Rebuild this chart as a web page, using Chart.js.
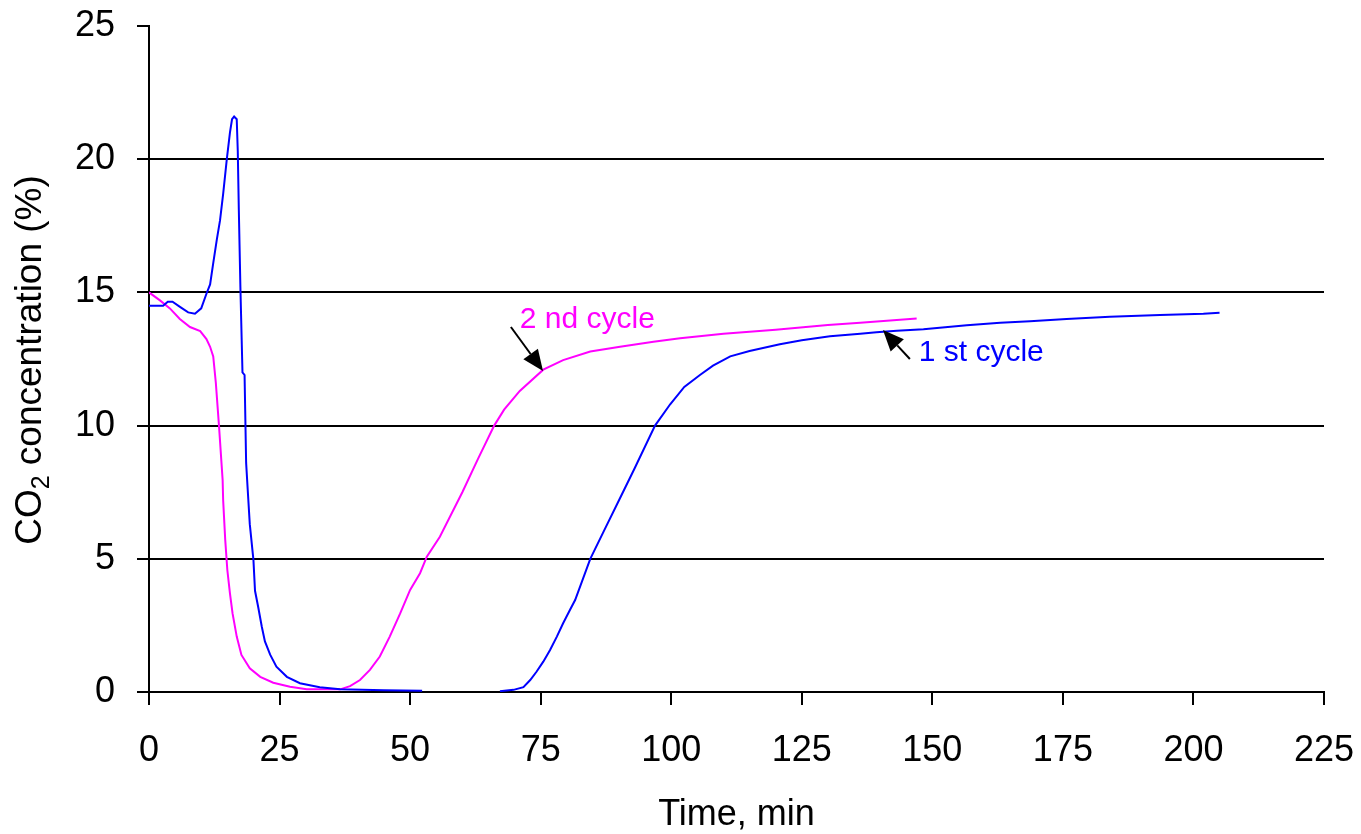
<!DOCTYPE html>
<html>
<head>
<meta charset="utf-8">
<script src="https://cdn.jsdelivr.net/npm/chart.js@4.4.1/dist/chart.umd.min.js"></script>
<style>
  body { margin: 0; background: #fff; }
  #wrap { width: 1361px; height: 834px; }
</style>
</head>
<body>
<div id="wrap"><canvas id="co2Chart"></canvas></div>
<script>
// Data (time in min, CO2 in %)
const cycle1Time = [0, 2.7, 3.6, 4.5, 6.0, 7.5, 8.8, 10.0, 11.0, 11.7, 12.3, 13.0, 13.6, 14.2, 14.9, 15.5, 15.9, 16.3, 16.8, 17.0, 17.2, 17.5, 17.9, 18.3, 18.6, 18.9, 19.3, 20.0, 20.3, 20.9, 21.6, 22.2, 23.2, 24.4, 26.4, 28.9, 32.7, 36.6, 45, 52.3, 60, 67.2, 69.8, 71.7, 73.0, 74.2, 75.5, 76.8, 78.1, 79.3, 80.6, 81.6, 84.5, 87, 90, 93, 96.9, 99.8, 102.5, 105.5, 108, 111.3, 115, 120.8, 125, 130.4, 136.2, 139.3, 143.2, 148.3, 156.6, 163, 168.7, 175.7, 184, 193.6, 201.9, 205]
const cycle1Co2 = [14.5, 14.5, 14.65, 14.65, 14.45, 14.25, 14.2, 14.4, 14.95, 15.3, 16.1, 17.0, 17.7, 18.7, 20.0, 21.0, 21.5, 21.6, 21.5, 20.3, 18.1, 15.2, 12.0, 11.9, 8.6, 7.6, 6.3, 4.95, 3.8, 3.2, 2.45, 1.9, 1.4, 0.95, 0.57, 0.33, 0.18, 0.1, 0.07, 0.05, null, 0.03, 0.08, 0.18, 0.45, 0.76, 1.14, 1.58, 2.08, 2.58, 3.08, 3.45, 5.0, 6.0, 7.2, 8.4, 10.0, 10.8, 11.45, 11.9, 12.25, 12.6, 12.8, 13.05, 13.2, 13.35, 13.45, 13.5, 13.56, 13.62, 13.77, 13.86, 13.92, 14.0, 14.09, 14.15, 14.2, 14.24]

const cycle2Time = [0, 2.1, 4.0, 5.9, 7.85, 9.8, 11.0, 11.7, 12.3, 12.8, 13.4, 14.1, 14.2, 14.6, 15.0, 15.5, 16.0, 16.8, 17.7, 19.3, 21.3, 23.8, 27, 30.2, 36.6, 38.5, 40.4, 42.3, 44.2, 46.1, 48.1, 50.0, 51.9, 53.2, 55.7, 60, 63, 66.1, 68, 71, 75.5, 79.3, 84.5, 90.2, 96.6, 101.7, 110, 120, 130, 136.2, 147]
const cycle2Co2 = [15.0, 14.7, 14.4, 14.0, 13.7, 13.55, 13.25, 12.96, 12.6, 11.6, 10.0, 7.96, 7.2, 5.7, 4.58, 3.7, 2.95, 2.08, 1.39, 0.89, 0.57, 0.35, 0.2, 0.1, 0.1, 0.22, 0.45, 0.83, 1.33, 2.08, 2.95, 3.83, 4.46, 5.08, 5.83, 7.5, 8.75, 10.0, 10.6, 11.3, 12.1, 12.46, 12.78, 12.96, 13.15, 13.28, 13.45, 13.6, 13.78, 13.86, 14.02]

const xTickValues = [0, 25, 50, 75, 100, 125, 150, 175, 200, 225]
const yTickValues = [0, 5, 10, 15, 20, 25]

const FONT = "'Liberation Sans', Arial, sans-serif"

const toPoints = (xs, ys) => xs.map((x, i) => ({ x: x, y: ys[i] }))

// Labels with arrows, placed in data coordinates
const notes = [
  { text: "2 nd cycle", color: "#ff00ff", at: [71.0, 13.66], tail: [69.3, 13.7], tip: [75.45, 12.05] },
  { text: "1 st cycle", color: "#0000ff", at: [147.4, 12.42], tail: [145.7, 12.5], tip: [140.55, 13.59] },
]

const notesPlugin = {
  id: "notes",
  afterDatasetsDraw(chart) {
    const { ctx, scales } = chart
    const xs = scales.x
    const ys = scales.y
    ctx.save()
    notes.forEach((n) => {
      ctx.font = "30px " + FONT
      ctx.fillStyle = n.color
      ctx.textBaseline = "alphabetic"
      ctx.textAlign = "left"
      ctx.fillText(n.text, xs.getPixelForValue(n.at[0]), ys.getPixelForValue(n.at[1]))

      const tx = xs.getPixelForValue(n.tail[0])
      const ty = ys.getPixelForValue(n.tail[1])
      const hx = xs.getPixelForValue(n.tip[0])
      const hy = ys.getPixelForValue(n.tip[1])
      const ang = Math.atan2(hy - ty, hx - tx)
      const len = 21
      const half = 9
      const bx = hx - len * Math.cos(ang)
      const by = hy - len * Math.sin(ang)
      ctx.strokeStyle = "#000"
      ctx.lineWidth = 2
      ctx.beginPath()
      ctx.moveTo(tx, ty)
      ctx.lineTo(bx, by)
      ctx.stroke()
      ctx.fillStyle = "#000"
      ctx.beginPath()
      ctx.moveTo(hx, hy)
      ctx.lineTo(bx - half * Math.sin(ang), by + half * Math.cos(ang))
      ctx.lineTo(bx + half * Math.sin(ang), by - half * Math.cos(ang))
      ctx.closePath()
      ctx.fill()
    })
    ctx.restore()
  },
}

// Y axis title with subscript 2
const yTitlePlugin = {
  id: "yTitle",
  afterDraw(chart) {
    const { ctx } = chart
    const big = "37px " + FONT
    const small = "25px " + FONT
    const parts = [
      { t: "CO", f: big, dy: 0 },
      { t: "2", f: small, dy: 8 },
      { t: " concentration (%)", f: big, dy: 0 },
    ]
    let total = 0
    parts.forEach((p) => {
      ctx.font = p.f
      p.w = ctx.measureText(p.t).width
      total += p.w
    })
    ctx.save()
    ctx.translate(41, 360)
    ctx.rotate(-Math.PI / 2)
    ctx.fillStyle = "#000"
    ctx.textBaseline = "alphabetic"
    ctx.textAlign = "left"
    let x = -total / 2
    parts.forEach((p) => {
      ctx.font = p.f
      ctx.fillText(p.t, x, p.dy)
      x += p.w
    })
    ctx.restore()
  },
}

const ctx = document.getElementById("co2Chart").getContext("2d")

const co2Chart = new Chart(ctx, {
  type: "line",
  data: {
    datasets: [
      {
        label: "1 st cycle",
        data: toPoints(cycle1Time, cycle1Co2),
        borderColor: "#0000ff",
        borderWidth: 2,
        pointRadius: 0,
        tension: 0,
        spanGaps: false,
      },
      {
        label: "2 nd cycle",
        data: toPoints(cycle2Time, cycle2Co2),
        borderColor: "#ff00ff",
        borderWidth: 2,
        pointRadius: 0,
        tension: 0,
      },
    ],
  },
  options: {
    responsive: true,
    maintainAspectRatio: false,
    animation: false,
    layout: {
      padding: { top: 26, right: 37, left: 0, bottom: 0 },
    },
    plugins: {
      legend: { display: false },
      tooltip: { enabled: false },
    },
    scales: {
      x: {
        type: "linear",
        min: 0,
        max: 225,
        afterBuildTicks: (scale) => {
          scale.ticks = xTickValues.map((v) => ({ value: v }))
        },
        afterFit: (scale) => {
          scale.height = 142
          scale.paddingLeft = 0
          scale.paddingRight = 0
        },
        grid: {
          drawOnChartArea: false,
          drawTicks: true,
          tickLength: 13,
          tickColor: "#000",
          lineWidth: 2,
        },
        border: { display: true, color: "#000", width: 2 },
        ticks: {
          color: "#000",
          padding: 24,
          maxRotation: 0,
          font: { family: FONT, size: 36 },
        },
        title: {
          display: true,
          text: "Time, min",
          color: "#000",
          font: { family: FONT, size: 36 },
          padding: { top: 0, bottom: -3 },
        },
      },
      y: {
        type: "linear",
        min: 0,
        max: 25,
        afterBuildTicks: (scale) => {
          scale.ticks = yTickValues.map((v) => ({ value: v }))
        },
        afterFit: (scale) => {
          scale.width = 149
          scale.paddingTop = 0
          scale.paddingBottom = 0
        },
        grid: {
          color: (c) => (c.tick && c.tick.value === 25 ? "rgba(0,0,0,0)" : "#000"),
          tickColor: "#000",
          lineWidth: 2,
          tickLength: 12,
        },
        border: { display: true, color: "#000", width: 2 },
        ticks: {
          color: "#000",
          padding: 22,
          font: { family: FONT, size: 36 },
        },
      },
    },
  },
  plugins: [notesPlugin, yTitlePlugin],
})
</script>
</body>
</html>
